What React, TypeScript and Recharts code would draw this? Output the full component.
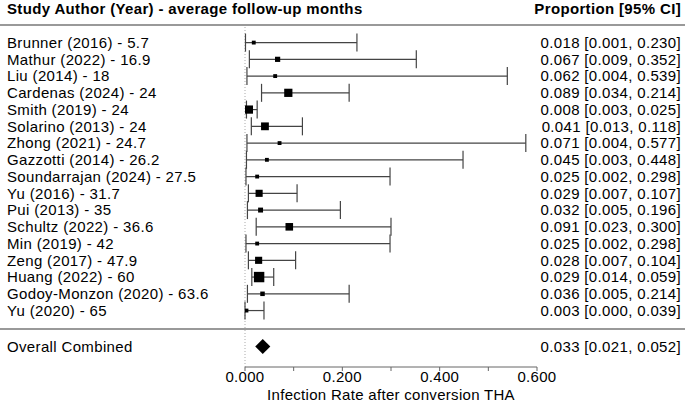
import { ScatterChart, Scatter, XAxis, YAxis, ErrorBar, ReferenceLine, ReferenceArea } from 'recharts';

// Study rows, top to bottom
const studies = [
  'Brunner (2016) - 5.7',
  'Mathur (2022) - 16.9',
  'Liu (2014) - 18',
  'Cardenas (2024) - 24',
  'Smith (2019) - 24',
  'Solarino (2013) - 24',
  'Zhong (2021) - 24.7',
  'Gazzotti (2014) - 26.2',
  'Soundarrajan (2024) - 27.5',
  'Yu (2016) - 31.7',
  'Pui (2013) - 35',
  'Schultz (2022) - 36.6',
  'Min (2019) - 42',
  'Zeng  (2017) - 47.9',
  'Huang (2022) - 60',
  'Godoy-Monzon (2020) - 63.6',
  'Yu (2020) - 65',
];
const proportions = [0.018, 0.067, 0.062, 0.089, 0.008, 0.041, 0.071, 0.045, 0.025, 0.029, 0.032, 0.091, 0.025, 0.028, 0.029, 0.036, 0.003];
const lowerCI = [0.001, 0.009, 0.004, 0.034, 0.003, 0.013, 0.004, 0.003, 0.002, 0.007, 0.005, 0.023, 0.002, 0.007, 0.014, 0.005, 0.0];
const upperCI = [0.23, 0.352, 0.539, 0.214, 0.025, 0.118, 0.577, 0.448, 0.298, 0.107, 0.196, 0.3, 0.298, 0.104, 0.059, 0.214, 0.039];
// relative study weights (%), drive the square size
const weights = [2.2, 4, 2.2, 10, 10, 9, 2.2, 2.2, 2.2, 7.5, 3.6, 8.5, 2.2, 7.5, 16, 3, 2.2];

const overallLabel = 'Overall Combined';
const overallProportion = 0.033;
const overallLower = 0.021;
const overallUpper = 0.052;

const xTicks = [0, 0.1, 0.2, 0.3, 0.4, 0.5, 0.6];
const xLabelled = [0, 0.2, 0.4, 0.6];

const FONT = '"Liberation Sans", Arial, Helvetica, sans-serif';
const W = 685;
const H = 402;
const OVERALL_ROW = studies.length + 1.15;

const fmt = (v: number) => v.toFixed(3);
const ciText = (p: number, lo: number, hi: number) => `${fmt(p)} [${fmt(lo)}, ${fmt(hi)}]`;

const rows = studies.map((name, i) => ({
  row: i,
  name,
  est: proportions[i],
  err: [proportions[i] - lowerCI[i], upperCI[i] - proportions[i]],
  w: weights[i],
  text: ciText(proportions[i], lowerCI[i], upperCI[i]),
}));

const labelRows = [
  ...rows.map((r) => ({ row: r.row, name: r.name, text: r.text })),
  { row: OVERALL_ROW, name: overallLabel, text: ciText(overallProportion, overallLower, overallUpper) },
];

// eslint-disable-next-line @typescript-eslint/no-explicit-any
const RowTick = ({ y, payload }: any) => {
  const r = labelRows.find((d) => Math.abs(d.row - payload.value) < 1e-6);
  if (!r) return null;
  return (
    <g fontFamily={FONT} fontSize={15} fill="#000" letterSpacing={0.35}>
      <text x={7} y={y} dy="0.36em" textAnchor="start">
        {r.name}
      </text>
      <text x={681} y={y} dy="0.36em" textAnchor="end">
        {r.text}
      </text>
    </g>
  );
};

// eslint-disable-next-line @typescript-eslint/no-explicit-any
const WeightSquare = ({ cx, cy, payload }: any) => {
  const s = Math.sqrt(payload.w) * 2.6;
  return <rect x={cx - s / 2} y={cy - s / 2} width={s} height={s} fill="#000" />;
};

// eslint-disable-next-line @typescript-eslint/no-explicit-any
const Diamond = ({ x, y, width, height }: any) => {
  const my = y + height / 2;
  const mx = x + width / 2;
  return <polygon points={`${x},${my} ${mx},${y} ${x + width},${my} ${mx},${y + height}`} fill="#000" />;
};

const headStyle = { position: 'absolute', top: 0, fontSize: 15, fontWeight: 700, lineHeight: '18px', letterSpacing: 0.35 } as const;

export default function App() {
  return (
    <div style={{ position: 'absolute', left: 0, top: 0, width: W, height: H, background: '#fff', fontFamily: FONT }}>
      <div style={{ ...headStyle, left: 7 }}>Study Author (Year) - average follow-up months</div>
      <div style={{ ...headStyle, right: 4 }}>Proportion [95% CI]</div>
      <ScatterChart width={W} height={H} margin={{ top: 25, right: 148, bottom: 0, left: 0 }}>
        <XAxis
          type="number"
          dataKey="est"
          domain={[0, 0.6]}
          ticks={xTicks}
          allowDataOverflow
          interval={0}
          height={35}
          stroke="#666"
          tickSize={4}
          tickMargin={0}
          tick={{ fill: '#000', fontSize: 15, fontFamily: FONT, letterSpacing: 0.3 }}
          tickFormatter={(v: number) => (xLabelled.some((t) => Math.abs(t - v) < 1e-9) ? fmt(v) : '')}
          label={{
            value: 'Infection Rate after conversion THA',
            position: 'insideBottom',
            offset: 2,
            fill: '#000',
            fontSize: 15,
            fontFamily: FONT,
            letterSpacing: 0.3,
          }}
        />
        <YAxis
          type="number"
          dataKey="row"
          domain={[-1.05, 19.37]}
          reversed
          allowDataOverflow
          width={245}
          ticks={labelRows.map((r) => r.row)}
          interval={0}
          axisLine={false}
          tickLine={false}
          tick={<RowTick />}
        />

        <ReferenceLine
          segment={[{ x: -0.51, y: -1.05 }, { x: 0.91, y: -1.05 }]}
          stroke="#777"
          strokeWidth={1.5}
          ifOverflow="visible"
        />
        <ReferenceLine
          segment={[{ x: -0.51, y: studies.length + 0.1 }, { x: 0.91, y: studies.length + 0.1 }]}
          stroke="#777"
          strokeWidth={1.5}
          ifOverflow="visible"
        />
        <ReferenceLine x={0} stroke="#aaa" strokeDasharray="1 2" />

        <Scatter data={rows} shape={<WeightSquare />} isAnimationActive={false}>
          <ErrorBar dataKey="err" direction="x" width={9} stroke="#444" strokeWidth={1.2} />
        </Scatter>

        <ReferenceArea
          x1={overallLower}
          x2={overallUpper}
          y1={OVERALL_ROW - 0.45}
          y2={OVERALL_ROW + 0.45}
          shape={<Diamond />}
          ifOverflow="visible"
        />
      </ScatterChart>
    </div>
  );
}
